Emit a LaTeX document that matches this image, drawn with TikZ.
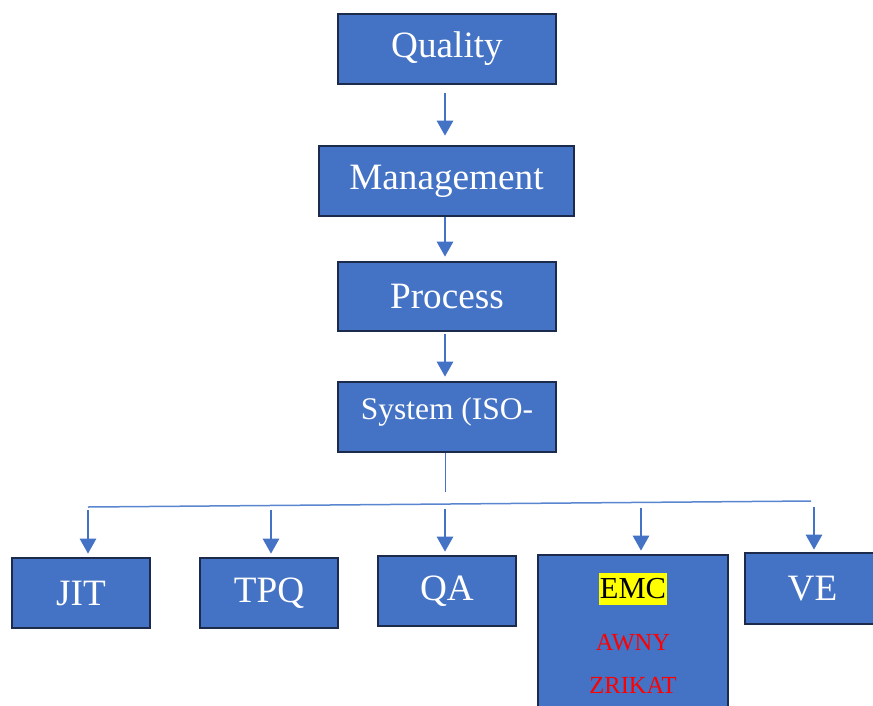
\documentclass[tikz,border=0pt]{standalone}
\usepackage{fontspec}
\setmainfont{Liberation Serif}
\usetikzlibrary{arrows.meta,calc}
\definecolor{boxblue}{HTML}{4472C4}
\definecolor{boxedge}{HTML}{1C2B4B}
\definecolor{linkblue}{HTML}{4472C4}
\definecolor{busblue}{HTML}{5A86D0}
\definecolor{hilite}{HTML}{FFFF00}
\definecolor{signred}{HTML}{FF0000}
\tikzset{
  box/.style={draw=boxedge, line width=2.6pt, fill=boxblue, text=white,
    inner sep=0pt, font=\fontsize{37.2}{41}\selectfont},
  link/.style={draw=linkblue, line width=2.6pt,
    -{Triangle[length=15pt,width=16pt]}},
  bus/.style={draw=busblue, line width=1.5pt},
  stem/.style={draw=linkblue, line width=1pt},
}
\begin{document}
\begin{tikzpicture}[x=1pt,y=-1pt]
\useasboundingbox (0,0) rectangle (873,705);
\clip (0,0) rectangle (873,705);
% main chain
\node[box, minimum width=218pt, minimum height=70pt] (q) at (447,49) {Quality};
\node[box, minimum width=255pt, minimum height=70pt] (m) at (446.5,181) {Management};
\node[box, minimum width=218pt, minimum height=69pt] (p) at (447,296.5) {Process};
\node[box, minimum width=218pt, minimum height=70pt] (s) at (447,417) {};
\node[text=white, font=\fontsize{31.5}{36}\selectfont, inner sep=0pt] (stxt) at (447,412) {System (ISO-};
% bottom row
\node[box, minimum width=138pt, minimum height=70pt] (jit) at (81,593) {JIT};
\node[box, minimum width=138pt, minimum height=70pt] (tpq) at (269,593) {TPQ};
\node[box, minimum width=138pt, minimum height=70pt] (qa) at (447,591) {QA};
\node[box, minimum width=190pt, minimum height=160pt] (emc) at (633,635) {};
\node[box, minimum width=135pt, minimum height=71pt] (ve) at (812.5,588.5) {VE};
% contents of the EMC box
\node[fill=hilite, text=black, inner xsep=1pt, inner ysep=6pt,
  font=\fontsize{30.5}{34}\selectfont] (emct) at (633,589) {EMC};
\node[text=signred, inner sep=0pt, font=\fontsize{24.5}{28}\selectfont] (awny) at (633,643) {AWNY};
\node[text=signred, inner sep=0pt, font=\fontsize{24.5}{28}\selectfont] (zrik) at (633,685) {ZRIKAT};
% arrows down the chain
\draw[link] ($(q.south)+(-2,8)$) -- ($(m.north)+(-1.5,-9)$);
\draw[link] ($(m.south)+(-1.5,0)$) -- ($(p.north)+(-2,-4)$);
\draw[link] ($(p.south)+(-2,2)$) -- ($(s.north)+(-2,-4)$);
% distribution bus
\coordinate (stemend) at (445,492);
\coordinate (busL) at (88,507);
\coordinate (busR) at (811,501);
\draw[stem] ($(s.south)+(-2,0)$) -- (stemend);
\draw[bus] (busL) -- (busR);
\draw[link] (88,510) -- ($(jit.north)+(7,-3)$);
\draw[link] (271,510) -- ($(tpq.north)+(2,-3)$);
\draw[link] (445,509) -- ($(qa.north)+(-2,-3)$);
\draw[link] (641,508) -- ($(emc.north)+(8,-3)$);
\draw[link] (814,507) -- ($(ve.north)+(1.5,-2)$);
\end{tikzpicture}
\end{document}
